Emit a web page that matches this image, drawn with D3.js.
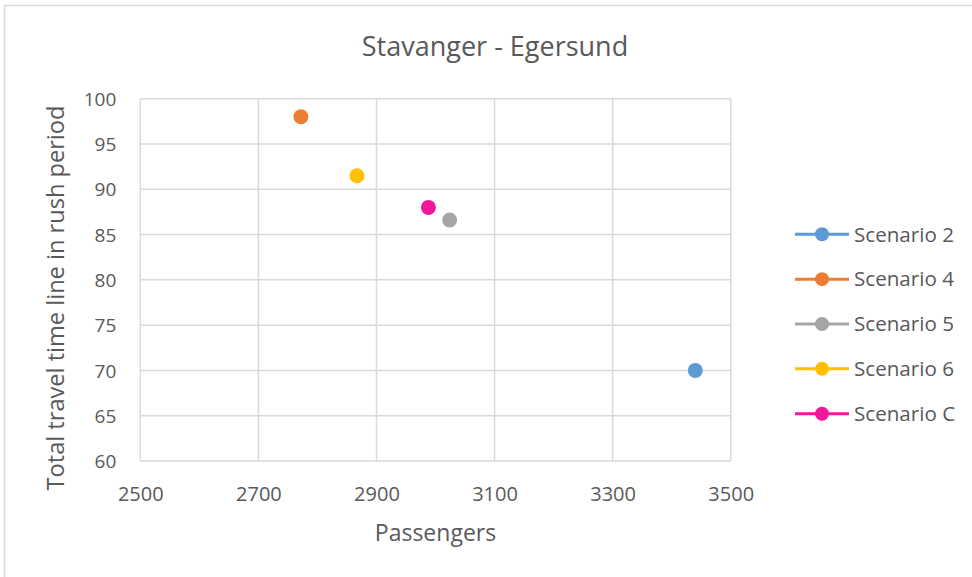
<!DOCTYPE html>
<html>
<head>
<meta charset="utf-8">
<script src="https://cdn.jsdelivr.net/npm/d3@7"></script>
<style>
  html, body { margin: 0; padding: 0; background: #fff; }
  svg { display: block; }
  text { font-family: "Open Sans", sans-serif; fill: #595959; }
</style>
</head>
<body>
<svg id="chart" width="972" height="577"></svg>
<script>
// Scenario results: passengers vs. total travel time in rush period
const seriesNames = ["Scenario 2", "Scenario 4", "Scenario 5", "Scenario 6", "Scenario C"];
const passengers  = [3440, 2772, 3024, 2867, 2988];
const travelTime  = [70.0, 98.0, 86.6, 91.5, 88.0];
const seriesColors = ["#5B9BD5", "#ED7D31", "#A5A5A5", "#FFC000", "#F0189A"];
const xTicks = [2500, 2700, 2900, 3100, 3300, 3500];
const yTicks = [60, 65, 70, 75, 80, 85, 90, 95, 100];

const chartTitle = "Stavanger - Egersund";
const xTitle = "Passengers";
const yTitle = "Total travel time line in rush period";

const svg = d3.select("#chart");
const gridColor = "#D9D9D9";

// outer chart frame
svg.append("rect")
  .attr("x", 4.5).attr("y", 5.5)
  .attr("width", 990).attr("height", 600)
  .attr("fill", "none").attr("stroke", gridColor).attr("stroke-width", 1.5);

const plot = { left: 140.3, right: 730.7, top: 98.7, bottom: 461 };

const x = d3.scaleLinear().domain([2500, 3500]).range([plot.left, plot.right]);
const y = d3.scaleLinear().domain([60, 100]).range([plot.bottom, plot.top]);

// gridlines
const grid = svg.append("g").attr("stroke", gridColor).attr("stroke-width", 1.5);
grid.selectAll("line.v").data(xTicks).join("line")
  .attr("class", "v")
  .attr("x1", d => x(d)).attr("x2", d => x(d))
  .attr("y1", plot.top).attr("y2", plot.bottom);
grid.selectAll("line.h").data(yTicks).join("line")
  .attr("class", "h")
  .attr("x1", plot.left).attr("x2", plot.right)
  .attr("y1", d => y(d)).attr("y2", d => y(d));

// axes (labels only; lines come from the grid)
const xAxis = svg.append("g")
  .attr("transform", `translate(0,${plot.bottom})`)
  .call(d3.axisBottom(x).tickValues(xTicks).tickFormat(d3.format("d")).tickSize(0).tickPadding(0));
xAxis.select(".domain").remove();
xAxis.selectAll("text")
  .attr("y", 39.5).attr("dy", null)
  .style("font-size", "20px").style("font-family", "'Open Sans', sans-serif")
  .attr("fill", "#595959");

const yAxis = svg.append("g")
  .attr("transform", `translate(${plot.left},0)`)
  .call(d3.axisLeft(y).tickValues(yTicks).tickFormat(d3.format("d")).tickSize(0).tickPadding(0));
yAxis.select(".domain").remove();
yAxis.selectAll("text")
  .attr("x", -24).attr("dy", "0.35em")
  .style("font-size", "19px").style("font-family", "'Open Sans', sans-serif")
  .attr("fill", "#595959");

// data points
const points = seriesNames.map((name, i) => ({
  name, px: passengers[i], t: travelTime[i], color: seriesColors[i]
}));
svg.append("g").selectAll("circle").data(points).join("circle")
  .attr("cx", d => x(d.px)).attr("cy", d => y(d.t))
  .attr("r", 7.5).attr("fill", d => d.color);

// titles
svg.append("text")
  .attr("x", 495).attr("y", 56)
  .attr("text-anchor", "middle")
  .style("font-size", "27px")
  .text(chartTitle);

svg.append("text")
  .attr("x", 435.5).attr("y", 540.5)
  .attr("text-anchor", "middle")
  .style("font-size", "23px")
  .text(xTitle);

svg.append("text")
  .attr("transform", "translate(64,298) rotate(-90)")
  .attr("text-anchor", "middle")
  .style("font-size", "23.6px")
  .text(yTitle);

// legend
const legend = svg.append("g");
const rowY = d3.scalePoint().domain(seriesNames).range([234.3, 413.7]);
const items = legend.selectAll("g").data(points).join("g")
  .attr("transform", d => `translate(0,${rowY(d.name)})`);
items.append("line")
  .attr("x1", 795).attr("x2", 849)
  .attr("stroke", d => d.color).attr("stroke-width", 3);
items.append("circle")
  .attr("cx", 822).attr("r", 7).attr("fill", d => d.color);
items.append("text")
  .attr("x", 854).attr("dy", "0.35em")
  .style("font-size", "20.6px")
  .text(d => d.name);
</script>
</body>
</html>
